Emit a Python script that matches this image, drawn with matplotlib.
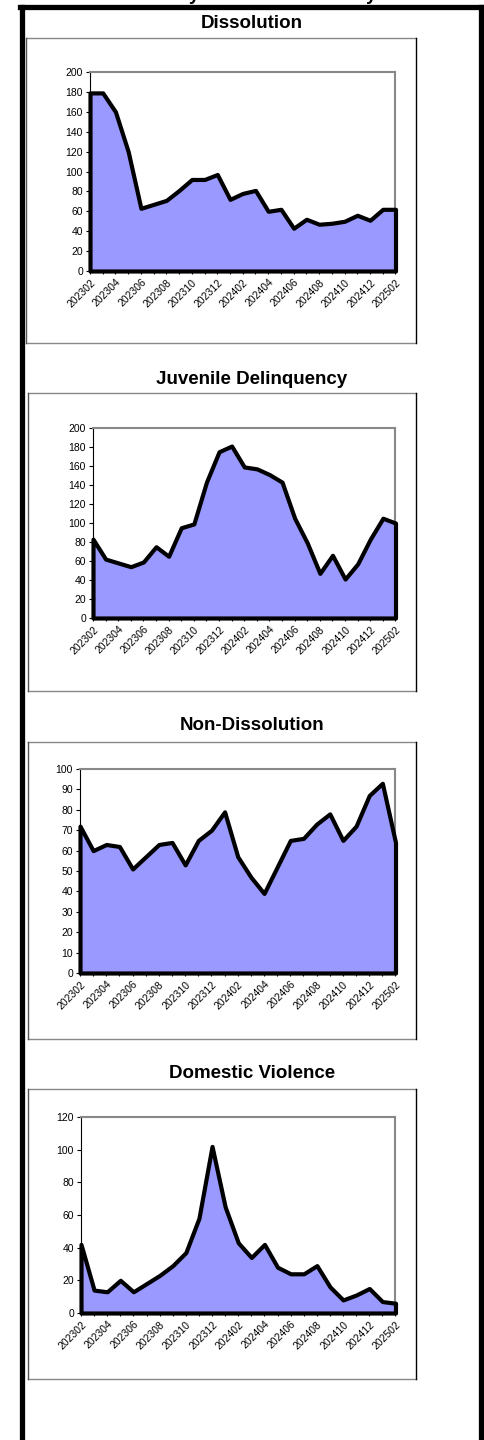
import numpy as np
import matplotlib
matplotlib.use("Agg")
import matplotlib.pyplot as plt
from matplotlib.lines import Line2D

plt.rcParams['font.family'] = ['Liberation Sans', 'DejaVu Sans']

# --- data (monthly counts, 202302 .. 202502) ---
months = ["202302", "202303", "202304", "202305", "202306", "202307", "202308",
          "202309", "202310", "202311", "202312", "202401", "202402", "202403",
          "202404", "202405", "202406", "202407", "202408", "202409", "202410",
          "202411", "202412", "202501", "202502"]

dissolution = [179, 179, 160, 120, 63, 67, 71, 81, 92, 92, 97, 72, 78,
               81, 60, 62, 43, 52, 47, 48, 50, 56, 51, 62, 62]
juvenile = [83, 62, 58, 54, 59, 75, 65, 95, 99, 143, 175, 181, 159,
            157, 151, 143, 105, 79, 47, 66, 41, 57, 83, 105, 100]
non_dissolution = [72, 60, 63, 62, 51, 57, 63, 64, 53, 65, 70, 79, 57,
                   47, 39, 52, 65, 66, 73, 78, 65, 72, 87, 93, 64]
domestic = [42, 14, 13, 20, 13, 18, 23, 29, 37, 58, 102, 65, 43,
            34, 42, 28, 24, 24, 29, 16, 8, 11, 15, 7, 6]

titles = ["Dissolution", "Juvenile Delinquency", "Non-Dissolution", "Domestic Violence"]
series = [dissolution, juvenile, non_dissolution, domestic]
y_ticks = [np.arange(0, 201, 20), np.arange(0, 201, 20),
           np.arange(0, 101, 10), np.arange(0, 121, 20)]

# pixel layout: (plot left, plot right, plot top, plot bottom), (box top, box bottom), title y
W, H = 485, 1440
plot_boxes = [(90, 395.5, 72, 271), (93, 395.5, 428, 618),
              (80, 395.5, 769, 973), (81, 395.5, 1117, 1313)]
chart_boxes = [(26, 416, 38, 343), (28, 416, 393, 691),
               (28, 416, 742, 1039), (28, 416, 1089, 1379)]
title_y = [23, 380, 726, 1074]
TITLE_X = 252

FILL = "#9999FF"
GRAY = "#888888"

fig = plt.figure(figsize=(W / 100, H / 100), dpi=100)


def fx(px):
    return px / W


def fy(py):
    return 1 - py / H


def fig_line(xs, ys, color, lw):
    fig.add_artist(Line2D([fx(v) for v in xs], [fy(v) for v in ys],
                          color=color, lw=lw, transform=fig.transFigure,
                          solid_capstyle="projecting"))


# outer frame + clipped page title at the very top
fig_line([22.5, 22.5], [6.5, 1445], "black", 3.8)
fig_line([20, 483], [6.5, 6.5], "black", 3.8)
fig_line([481, 481], [6.5, 1445], "black", 3.8)
fig.text(fx(258), fy(0.5), "Family Court Case Activity", ha="center",
         va="baseline", fontsize=13.5, fontweight="bold")

x = np.arange(len(months))
xlabels = [m if i % 2 == 0 else "" for i, m in enumerate(months)]

for k in range(4):
    l, r, t, b = plot_boxes[k]
    bl, br, bt, bb = chart_boxes[k]

    # chart box border
    fig_line([bl, br], [bt, bt], GRAY, 1.0)
    fig_line([bl, br], [bb, bb], GRAY, 1.0)
    fig_line([bl, bl], [bt, bb], "#555555", 1.0)
    fig_line([br, br], [bt, bb], "black", 1.0)

    fig.text(fx(TITLE_X), fy(title_y[k]), titles[k], ha="center",
             va="center", fontsize=13.5, fontweight="bold")

    ax = fig.add_axes([fx(l), fy(b), fx(r) - fx(l), (b - t) / H])
    vals = series[k]
    ax.fill_between(x, 0, vals, facecolor=FILL, edgecolor="black",
                    linewidth=3.0, joinstyle="round", clip_on=False, zorder=3)

    ax.set_xlim(0, len(months) - 1)
    ax.set_ylim(0, y_ticks[k][-1])
    ax.set_yticks(y_ticks[k])
    ax.set_xticks(x)
    ax.set_xticklabels(xlabels, rotation=45, ha="right",
                       rotation_mode="anchor", fontsize=7.5)
    ax.tick_params(axis="y", labelsize=7.5, length=3, width=0.8, pad=2)
    ax.tick_params(axis="x", length=2.5, width=0.8, pad=2)

    for side in ("top", "right"):
        ax.spines[side].set_color(GRAY)
        ax.spines[side].set_linewidth(1.5)
    for side in ("left", "bottom"):
        ax.spines[side].set_color("black")
        ax.spines[side].set_linewidth(0.8)

fig.savefig("out.png", dpi=100)
